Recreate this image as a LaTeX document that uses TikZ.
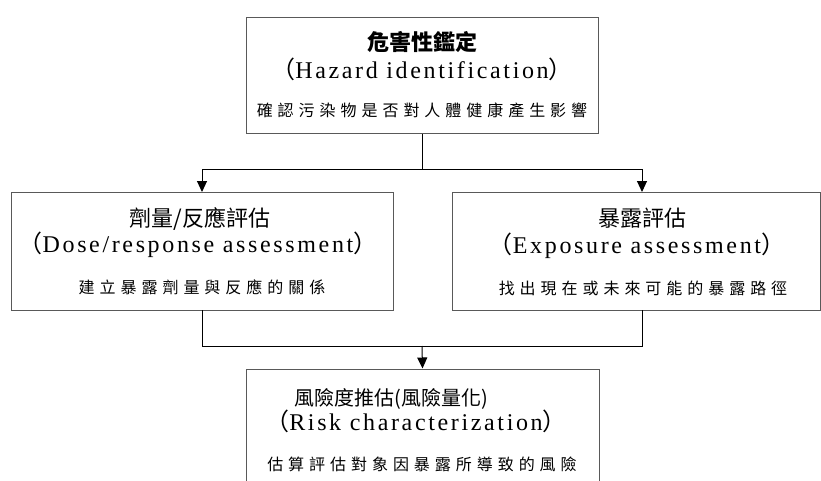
\documentclass[tikz,border=0pt]{standalone}
\usepackage{fontspec}
\setmainfont{Liberation Serif}
\newfontfamily\cjk{Noto Sans CJK TC}
\newfontfamily\cjkdesc[LetterSpace=31]{Noto Sans CJK TC}
\newfontfamily\latsp[LetterSpace=11]{Liberation Serif}
\usetikzlibrary{arrows.meta}
\tikzset{
  box/.style={draw=black!65, line width=1pt, rectangle, inner sep=0pt},
  ttl/.style={font=\fontsize{22}{22}\selectfont, inner sep=0pt, anchor=base},
  eng/.style={font=\fontsize{24}{24}\selectfont, inner sep=0pt, anchor=base},
  dsc/.style={font=\fontsize{16}{16}\selectfont, inner sep=0pt, anchor=base},
  conn/.style={draw=black, line width=1pt},
  arr/.style={conn, -{Triangle[width=10pt,length=11pt]}}
}
\newcommand{\FW}[1]{{\cjk #1}}
\begin{document}
\begin{tikzpicture}[x=1pt,y=-1pt]
\useasboundingbox (0,0) rectangle (821,480);
\clip (0,0) rectangle (821,480);
\fill[white] (0,0) rectangle (821,480);
% boxes
\node[box, minimum width=352pt, minimum height=116pt] (haz) at (422,75) {};
\node[box, minimum width=382pt, minimum height=118pt] (dose) at (202,251) {};
\node[box, minimum width=368pt, minimum height=118pt] (expo) at (636.5,251) {};
\node[box, minimum width=353pt, minimum height=120pt] (risk) at (422.5,429) {};
% texts: hazard
\node[ttl] (hazt) at (422,50) {\cjk\bfseries 危害性鑑定};
\node[eng] (haze) at (422,78) {\FW{（}{\latsp Hazard identification}\FW{）}};
\node[dsc] (hazd) at (422,116) {\cjkdesc 確認污染物是否對人體健康產生影響};
% dose
\node[ttl] (doset) at (200,226) {\cjk 劑量/反應評估};
\node[eng] (dosee) at (198,252) {\FW{（}{\latsp Dose/response assessment}\FW{）}};
\node[dsc] (dosed) at (202,293) {\cjkdesc 建立暴露劑量與反應的關係};
% exposure
\node[ttl] (expot) at (642,226) {\cjk 暴露評估};
\node[eng] (expoe) at (637,253) {\FW{（}{\latsp Exposure assessment}\FW{）}};
\node[dsc] (expod) at (643,294) {\cjkdesc 找出現在或未來可能的暴露路徑};
% risk
\node[ttl, font=\fontsize{20}{20}\selectfont] (riskt) at (391,405) {\cjk 風險度推估(風險量化)};
\node[eng] (riske) at (416,430) {\FW{（}{\latsp Risk characterization}\FW{）}};
\node[dsc] (riskd) at (422,470) {\cjkdesc 估算評估對象因暴露所導致的風險};
% connectors
\coordinate (j1) at (422,169);
\coordinate (j1l) at (202,169);
\coordinate (j1r) at (642,169);
\draw[conn] (haz.south) -- (j1);
\draw[conn] (j1l) -- (j1r);
\draw[arr] (j1l) -- (202,192);
\draw[arr] (j1r) -- (642,192);
\coordinate (j2l) at (202,346);
\coordinate (j2r) at (642,346);
\coordinate (j2) at (422,346);
\draw[conn] (202,310) -- (j2l) -- (j2r) -- (642,310);
\draw[arr] (j2) -- (risk.north);
\end{tikzpicture}
\end{document}
